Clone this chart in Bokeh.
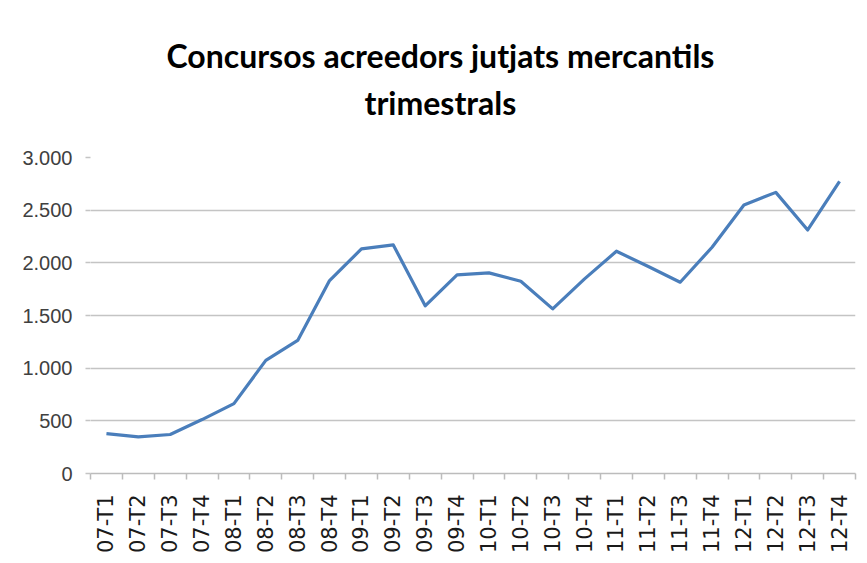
import math
from bokeh.plotting import figure
from bokeh.models import Range1d, FixedTicker, CustomJSTickFormatter, Title, ColumnDataSource
from bokeh.embed import file_html
from bokeh.resources import INLINE

# ---- data ----
categories = ["07-T1", "07-T2", "07-T3", "07-T4",
              "08-T1", "08-T2", "08-T3", "08-T4",
              "09-T1", "09-T2", "09-T3", "09-T4",
              "10-T1", "10-T2", "10-T3", "10-T4",
              "11-T1", "11-T2", "11-T3", "11-T4",
              "12-T1", "12-T2", "12-T3", "12-T4"]
concursos = [379, 347, 370, 512,
             663, 1074, 1263, 1832,
             2132, 2170, 1592, 1886,
             1905, 1825, 1563, 1848,
             2110, 1965, 1816, 2148,
             2549, 2669, 2312, 2773]
y_ticks = [0, 500, 1000, 1500, 2000, 2500, 3000]
title_lines = ["Concursos acreedors jutjats mercantils", "trimestrals"]

# category positions (centre of each slot) and slot boundaries
centers = [i + 0.5 for i in range(len(categories))]
bounds = [i for i in range(len(categories) + 1)]

W, H = 865, 560
p = figure(width=W, height=H, output_backend="svg", toolbar_location=None,
           x_range=Range1d(0, len(categories)), y_range=Range1d(0, 3000),
           min_border_left=90, min_border_right=10, min_border_top=157, min_border_bottom=87,
           title=None)
p.outline_line_color = None
p.background_fill_color = "white"
p.border_fill_color = "white"

src = ColumnDataSource(dict(x=centers, y=concursos))
p.line("x", "y", source=src, line_color="#4a7ebb", line_width=3.2, line_join="round")

# y axis
p.yaxis.ticker = FixedTicker(ticks=y_ticks)
p.yaxis.formatter = CustomJSTickFormatter(code="""
  return tick.toFixed(0).replace(/\\B(?=(\\d{3})+(?!\\d))/g, ".");
""")
p.yaxis.axis_line_color = None
p.yaxis.major_tick_line_color = "#c4c4c4"
p.yaxis.major_tick_line_width = 1.5
p.yaxis.major_tick_out = 5
p.yaxis.major_tick_in = 0
p.yaxis.minor_tick_line_color = None
p.yaxis.major_label_text_font = "Liberation Sans"
p.yaxis.major_label_text_font_size = "20px"
p.yaxis.major_label_text_color = "#404040"
p.yaxis.major_label_standoff = 13

# x axis
p.xaxis.ticker = FixedTicker(ticks=centers, minor_ticks=bounds)
p.xaxis.major_label_overrides = {c: lab for c, lab in zip(centers, categories)}
p.xaxis.major_label_orientation = math.pi / 2
p.xaxis.axis_line_color = "#bcbcbc"
p.xaxis.axis_line_width = 1.5
p.xaxis.major_tick_line_color = None
p.xaxis.major_tick_out = 0
p.xaxis.major_tick_in = 0
p.xaxis.minor_tick_line_color = "#bcbcbc"
p.xaxis.minor_tick_line_width = 1.5
p.xaxis.minor_tick_out = 6
p.xaxis.minor_tick_in = 0
p.xaxis.major_label_text_font = "DejaVu Sans"
p.xaxis.major_label_text_font_size = "21px"
p.xaxis.major_label_text_color = "#1a1a1a"
p.xaxis.major_label_standoff = 15

# grid
p.xgrid.grid_line_color = None
p.ygrid.grid_line_color = "#c4c4c4"
p.ygrid.grid_line_width = 1.5

# title: white (invisible) spacer next to the plot, then the two title lines stacked outward
spacer = Title(text="\u00a0", standoff=16, text_font_size="10px", text_color="white")
t2 = Title(text=title_lines[1], align="left", offset=274, standoff=13,
           text_font="Lato", text_font_style="bold", text_font_size="32px",
           text_color="#000000")
t1 = Title(text=title_lines[0], align="left", offset=76, standoff=0,
           text_font="Lato", text_font_style="bold", text_font_size="32px",
           text_color="#000000")
p.add_layout(spacer, "above")
p.add_layout(t2, "above")
p.add_layout(t1, "above")

open("out.html", "w").write(file_html(p, INLINE))
